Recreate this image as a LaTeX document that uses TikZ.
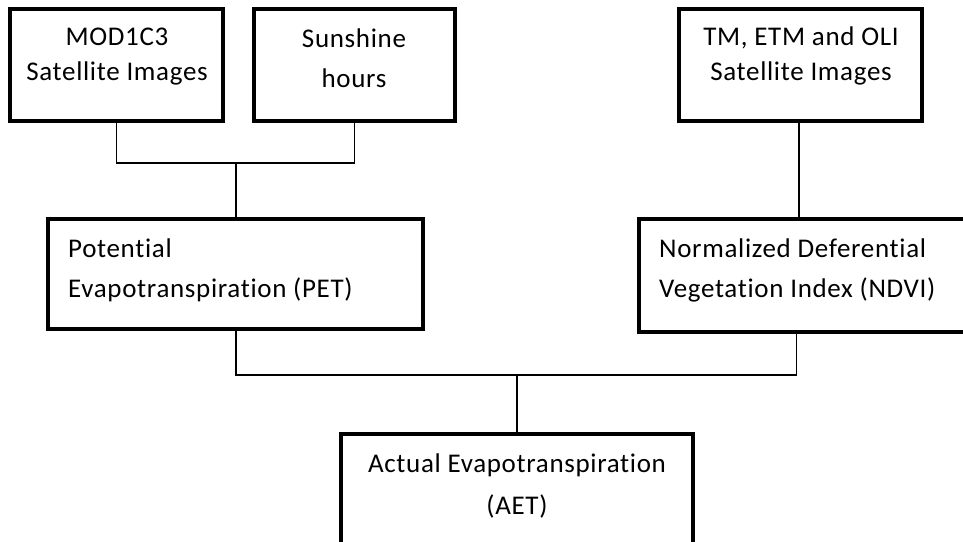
\documentclass[tikz,border=0pt]{standalone}
\usepackage{fontspec}
\setmainfont{Carlito}[Ligatures=NoCommon, LetterSpace=2.5]
\usetikzlibrary{calc}
\tikzset{
  box/.style={draw=black, line width=3.2pt, rectangle, inner sep=0pt, fill=none},
  conn/.style={draw=black, line width=1.8pt},
  txt/.style={inner sep=0pt, font=\fontsize{27}{31}\selectfont, text=black}
}
\begin{document}
\begin{tikzpicture}[x=1pt,y=-1pt]
\useasboundingbox (0,0) rectangle (963,541);
\fill[white] (0,0) rectangle (963,541);
\begin{scope}
\clip (0,0) rectangle (963,541);
% boxes
\node[box, minimum width=213pt, minimum height=112pt] (mod) at (116.5,65) {};
\node[box, minimum width=201pt, minimum height=112pt] (sun) at (354.5,65) {};
\node[box, minimum width=243pt, minimum height=112pt] (tm) at (800.5,65) {};
\node[box, minimum width=375pt, minimum height=110pt] (pet) at (235.5,274) {};
\node[box, minimum width=327pt, minimum height=113pt] (ndvi) at (802.5,275.5) {};
\node[box, minimum width=352pt, minimum height=126pt] (aet) at (517,497) {};
% texts
\node[txt, anchor=base] (t1a) at (117,45) {MOD1C3};
\node[txt, anchor=base] (t1b) at (117,80) {Satellite Images};
\node[txt, anchor=base] (t2a) at (354,47) {Sunshine};
\node[txt, anchor=base] (t2b) at (354,87) {hours};
\node[txt, anchor=base] (t3a) at (801,45) {TM, ETM and OLI};
\node[txt, anchor=base] (t3b) at (801,80) {Satellite Images};
\node[txt, anchor=base west] (t4a) at (68,257) {Potential};
\node[txt, anchor=base west] (t4b) at (68,297) {Evapotranspiration (PET)};
\node[txt, anchor=base west] (t5a) at (659,257) {Normalized Deferential};
\node[txt, anchor=base west] (t5b) at (659,297) {Vegetation Index (NDVI)};
\node[txt, anchor=base] (t6a) at (517,472) {Actual Evapotranspiration};
\node[txt, anchor=base] (t6b) at (517,514) {(AET)};
% connectors
\coordinate (j1) at (236,163);
\coordinate (j2) at (517,375);
\coordinate (ndviout) at ($(ndvi.south west)+(159,0)$);
\coordinate (tmout) at ($(tm.south)+(-1.5,0)$);
\draw[conn] (mod.south) |- (j1) -| (sun.south);
\draw[conn] (j1) -- (pet.north -| j1);
\draw[conn] (tmout) -- (tmout |- ndvi.north);
\draw[conn] (pet.south -| j1) |- (j2) -| (ndviout);
\draw[conn] (j2) -- (aet.north);
\end{scope}
\end{tikzpicture}
\end{document}
